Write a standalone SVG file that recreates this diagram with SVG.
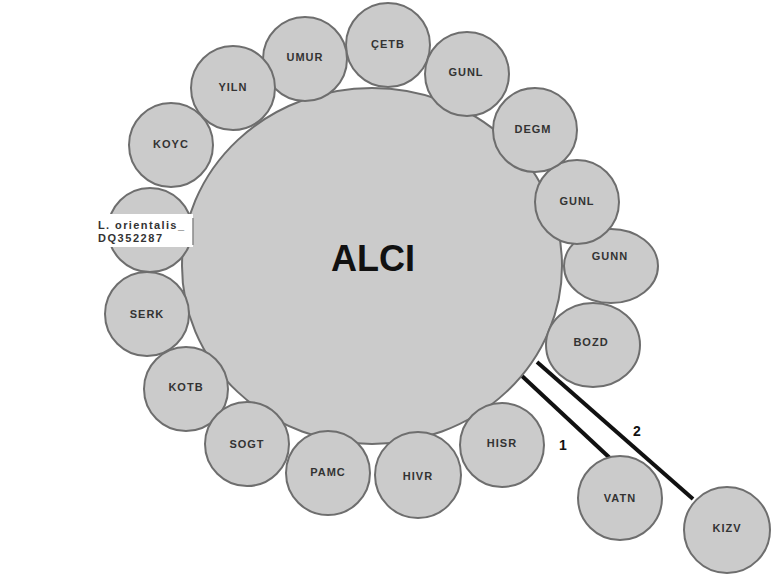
<svg xmlns="http://www.w3.org/2000/svg" width="773" height="579" viewBox="0 0 773 579">
<style>
.n{fill:#cbcbcb;stroke:#6e6e6e;stroke-width:2}
.t{font-family:"Liberation Sans",Arial,sans-serif;font-weight:bold;font-size:11px;letter-spacing:1px;fill:#333;text-anchor:middle;dominant-baseline:central}
.c{stroke:#111;stroke-width:4;fill:none}
.lab{font-family:"Liberation Sans",Arial,sans-serif;font-weight:bold;font-size:14px;fill:#111;text-anchor:middle}
</style>
<rect width="773" height="579" fill="#fff"/>
<g id="connectors">
<line class="c" x1="522" y1="376" x2="612" y2="460"/>
<line class="c" x1="537" y1="362" x2="693" y2="499"/>
<text class="lab" x="563" y="450">1</text>
<text class="lab" x="637" y="436">2</text>
</g>
<g id="ALCI"><ellipse class="n" cx="372" cy="266" rx="190" ry="178"/><text x="373" y="258" font-family="Liberation Sans,Arial,sans-serif" font-weight="bold" font-size="36" fill="#111" text-anchor="middle" dominant-baseline="central">ALCI</text></g>
<g id="CETB"><circle class="n" cx="388" cy="45" r="42"/><text class="t" x="388" y="44">ÇETB</text></g>
<g id="UMUR"><circle class="n" cx="305" cy="59" r="42"/><text class="t" x="305" y="57">UMUR</text></g>
<g id="YILN"><circle class="n" cx="233" cy="88" r="42"/><text class="t" x="233" y="87">YILN</text></g>
<g id="KOYC"><circle class="n" cx="171" cy="145" r="42"/><text class="t" x="171" y="144">KOYC</text></g>
<g id="Lorientalis"><circle class="n" cx="150" cy="230" r="42"/><rect x="97" y="214" width="96" height="33" fill="#fff"/><line x1="193" y1="218" x2="193" y2="245" stroke="#888" stroke-width="1.5"/><text font-family="Liberation Sans,Arial,sans-serif" font-weight="bold" font-size="11" fill="#333"><tspan x="98" y="229" textLength="86">L. orientalis_</tspan><tspan x="98" y="242" textLength="64">DQ352287</tspan></text></g>
<g id="SERK"><circle class="n" cx="147" cy="314" r="42"/><text class="t" x="147" y="314">SERK</text></g>
<g id="KOTB"><circle class="n" cx="186" cy="389" r="42"/><text class="t" x="186" y="387">KOTB</text></g>
<g id="SOGT"><circle class="n" cx="247" cy="444" r="42"/><text class="t" x="247" y="444">SOGT</text></g>
<g id="PAMC"><circle class="n" cx="328" cy="473" r="42"/><text class="t" x="328" y="472">PAMC</text></g>
<g id="HIVR"><circle class="n" cx="418" cy="475" r="43"/><text class="t" x="418" y="476">HIVR</text></g>
<g id="HISR"><circle class="n" cx="502" cy="445" r="42"/><text class="t" x="502" y="443">HISR</text></g>
<g id="BOZD"><ellipse class="n" cx="593" cy="345" rx="47" ry="42"/><text class="t" x="591" y="342">BOZD</text></g>
<g id="GUNN"><ellipse class="n" cx="611" cy="266" rx="47" ry="37"/><text class="t" x="610" y="256">GUNN</text></g>
<g id="GUNL2"><circle class="n" cx="577" cy="202" r="42"/><text class="t" x="577" y="201">GUNL</text></g>
<g id="DEGM"><circle class="n" cx="535" cy="130" r="42"/><text class="t" x="533" y="129">DEGM</text></g>
<g id="GUNL1"><circle class="n" cx="467" cy="74" r="42"/><text class="t" x="466" y="72">GUNL</text></g>
<g id="VATN"><circle class="n" cx="620" cy="498" r="42"/><text class="t" x="620" y="498">VATN</text></g>
<g id="KIZV"><circle class="n" cx="727" cy="530" r="43"/><text class="t" x="727" y="528">KIZV</text></g>
</svg>
